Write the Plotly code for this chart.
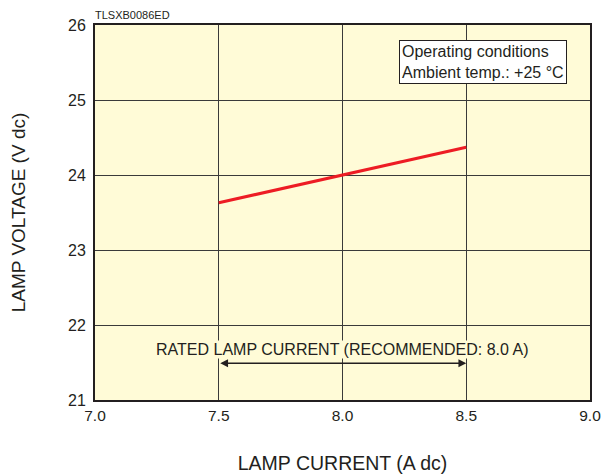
import plotly.graph_objects as go

# lamp current (A dc) vs lamp voltage (V dc)
current = [7.5, 8.5]
voltage = [23.63, 24.37]

x_ticks = [7.0, 7.5, 8.0, 8.5, 9.0]
y_ticks = [21, 22, 23, 24, 25, 26]

INK = "#231f20"
GRID = "#3a3a3a"
BG = "#fffbd7"

fig = go.Figure()
fig.add_trace(go.Scatter(x=current, y=voltage, mode="lines",
                         line=dict(color="#ed1c24", width=3), showlegend=False))

# page body has an 8px margin, so the figure is sized/offset to compensate
fig.update_layout(
    width=606, height=466,
    paper_bgcolor="white",
    plot_bgcolor=BG,
    font=dict(family="Liberation Sans, Arial", color=INK, size=15),
    margin=dict(l=87, r=24, t=17, b=74, autoexpand=False),
)
fig.update_xaxes(
    range=[7.0, 9.0], tickvals=x_ticks, tickformat=".1f",
    showgrid=True, gridcolor=GRID, gridwidth=1,
    showline=True, linecolor=INK, linewidth=2, mirror=True,
    zeroline=False, ticks="", tickfont=dict(size=15.5),
    title=dict(text="LAMP CURRENT (A dc)", standoff=34, font=dict(size=19.5)),
)
fig.update_yaxes(
    range=[21, 26], tickvals=y_ticks,
    showgrid=True, gridcolor=GRID, gridwidth=1,
    showline=True, linecolor=INK, linewidth=2, mirror=True,
    zeroline=False, ticks="", tickfont=dict(size=16), ticklabelstandoff=4,
    title=dict(text="LAMP VOLTAGE (V dc)", standoff=41, font=dict(size=19)),
)

# rated current arrow
fig.add_annotation(x=8.5, y=21.49, ax=7.5, ay=21.49, xref="x", yref="y",
                   axref="x", ayref="y", text="", showarrow=True,
                   arrowhead=2, arrowside="end+start", arrowsize=1.2,
                   arrowwidth=1.3, arrowcolor=INK)
fig.add_annotation(x=8.0, y=21.67, xref="x", yref="y", showarrow=False,
                   text="RATED LAMP CURRENT (RECOMMENDED: 8.0 A)",
                   font=dict(size=16, color=INK), bgcolor=BG, borderpad=0)

# operating conditions box
fig.add_annotation(x=0.9535, y=0.96, xref="paper", yref="paper",
                   xanchor="right", yanchor="top", showarrow=False, align="left",
                   text="Operating conditions<br>Ambient temp.: +25 °C",
                   font=dict(size=16, color=INK), bgcolor="white",
                   bordercolor=INK, borderwidth=1, borderpad=2)

fig.add_annotation(x=0.0, y=1.0, xref="paper", yref="paper", yshift=2, xshift=-2,
                   xanchor="left", yanchor="bottom", showarrow=False,
                   text="TLSXB0086ED", font=dict(size=11, color=INK))

fig.write_html("out.html")
